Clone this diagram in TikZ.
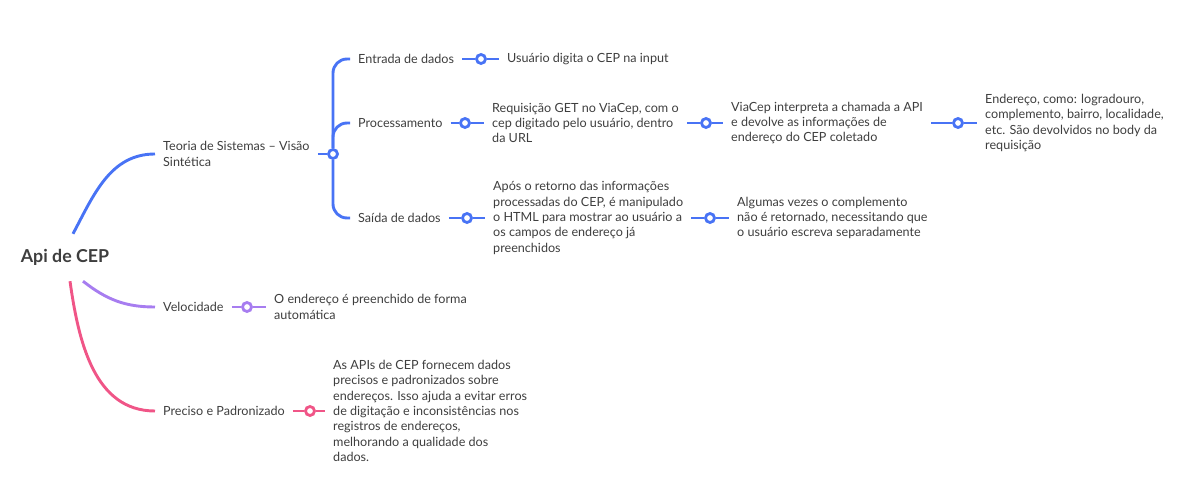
\documentclass[tikz,border=0pt]{standalone}
\usepackage{fontspec}
\setmainfont{Lato}
\usepackage{xcolor}
\usetikzlibrary{positioning}
\definecolor{mapblue}{RGB}{72,115,245}
\definecolor{mappurple}{RGB}{167,125,240}
\definecolor{mappink}{RGB}{240,85,135}
\definecolor{maptext}{RGB}{62,62,62}

\begin{document}
\begin{tikzpicture}[x=1pt,y=1pt]
\tikzstyle{leaf}=[anchor=west, inner xsep=8pt, inner ysep=0pt, align=left, text=maptext, font=\fontsize{12.6}{15.4}\selectfont]
\tikzstyle{knob}=[circle, draw, fill=white, inner sep=0pt, minimum size=9pt, line width=2.8pt]
\tikzstyle{link}=[line width=2.9pt]
\useasboundingbox (0,0) rectangle (1181,-497);
\node [inner sep=0pt, minimum height=47pt, text=maptext, font=\fontsize{17.8}{20}\selectfont\bfseries] (api) at (65,-257.5) {Api de CEP};
\node [leaf] (teoria) at (155,-154) {Teoria de Sistemas -- Visão\\Sintética};
\node [knob, draw=mapblue] (hub) at (333,-154) {};
\node [leaf] (entrada) at (350,-59) {Entrada de dados};
\node [leaf] (proc) at (350,-123) {Processamento};
\node [leaf] (saida) at (350,-218) {Saída de dados};
\node [knob, draw=mapblue] (kentrada) at (481,-59) {};
\node [leaf] (usuario) at (499,-59) {Usuário digita o CEP na input};
\node [knob, draw=mapblue] (kproc) at (465,-123) {};
\node [leaf] (requisicao) at (484,-123) {Requisição GET no ViaCep, com o\\cep digitado pelo usuário, dentro\\da URL};
\node [knob, draw=mapblue] (kreq) at (706,-123) {};
\node [leaf] (viacep) at (723,-123) {ViaCep interpreta a chamada a API\\e devolve as informações de\\endereço do CEP coletado};
\node [knob, draw=mapblue] (kvia) at (958,-123) {};
\node [leaf] (endereco) at (977,-123) {Endereço, como: logradouro,\\complemento, bairro, localidade,\\etc. São devolvidos no body da\\requisição};
\node [knob, draw=mapblue] (ksaida) at (467,-218) {};
\node [leaf] (retorno) at (485,-218) {Após o retorno das informações\\processadas do CEP, é manipulado\\o HTML para mostrar ao usuário a\\os campos de endereço já\\preenchidos};
\node [knob, draw=mapblue] (kret) at (710,-218) {};
\node [leaf] (complemento) at (729,-218) {Algumas vezes o complemento\\não é retornado, necessitando que\\o usuário escreva separadamente};
\node [leaf] (velocidade) at (155,-307) {Velocidade};
\node [knob, draw=mappurple] (kvel) at (247,-307) {};
\node [leaf] (automatica) at (266,-307) {O endereço é preenchido de forma\\automática};
\node [leaf] (preciso) at (155,-411) {Preciso e Padronizado};
\node [knob, draw=mappink] (kpre) at (310,-411) {};
\node [leaf] (apis) at (325,-411) {As APIs de CEP fornecem dados\\precisos e padronizados sobre\\endereços. Isso ajuda a evitar erros\\de digitação e inconsistências nos\\registros de endereços,\\melhorando a qualidade dos\\dados.};
\draw [link, mapblue] ([xshift=8pt]api.north) to[out=62,in=180] (teoria.west);
\draw [link, mappurple] ([xshift=18pt]api.south) to[out=-38,in=180] (velocidade.west);
\draw [link, mappink] ([xshift=5pt]api.south) to[out=-82,in=180] (preciso.west);
\draw [link, mapblue] (teoria) -- (hub);
\draw [link, mapblue, rounded corners=14pt] (hub.north) |- (entrada.west);
\draw [link, mapblue, rounded corners=14pt] (hub.north) |- (proc.west);
\draw [link, mapblue, rounded corners=14pt] (hub.south) |- (saida.west);
\draw [link, mapblue] (entrada) -- (kentrada) -- (usuario);
\draw [link, mapblue] (proc) -- (kproc) -- (requisicao);
\draw [link, mapblue] (requisicao) -- (kreq) -- (viacep);
\draw [link, mapblue] (viacep) -- (kvia) -- (endereco);
\draw [link, mapblue] (saida) -- (ksaida) -- (retorno);
\draw [link, mapblue] (retorno) -- (kret) -- (complemento);
\draw [link, mappurple] (velocidade) -- (kvel) -- (automatica);
\draw [link, mappink] (preciso) -- (kpre) -- (apis);
\end{tikzpicture}
\end{document}
